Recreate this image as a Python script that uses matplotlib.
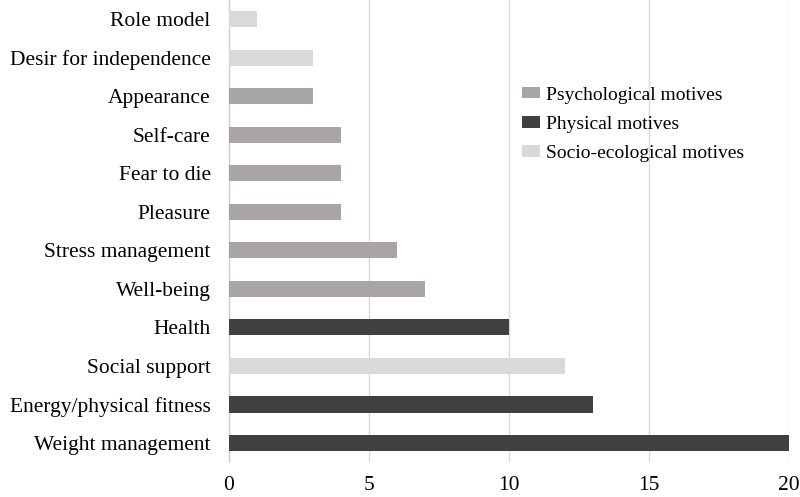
import matplotlib
matplotlib.use("Agg")
import matplotlib.pyplot as plt
from matplotlib.patches import Patch

categories = ["Weight management", "Energy/physical fitness", "Social support", "Health",
              "Well-being", "Stress management", "Pleasure", "Fear to die", "Self-care",
              "Appearance", "Desir for independence", "Role model"]
values = [20, 13, 12, 10, 7, 6, 4, 4, 4, 3, 3, 1]
groups = ["Physical", "Physical", "Socio", "Physical", "Psych", "Psych", "Psych", "Psych",
          "Psych", "Psych", "Socio", "Socio"]
group_colors = {"Psych": "#a9a5a5", "Physical": "#404040", "Socio": "#d9d9d9"}
legend_labels = [("Psych", "Psychological motives"), ("Physical", "Physical motives"),
                 ("Socio", "Socio-ecological motives")]
xticks = [0, 5, 10, 15, 20]

plt.rcParams['font.family'] = ['Liberation Serif', 'DejaVu Serif']

fig = plt.figure(figsize=(8.0, 4.97), dpi=100)
ax = fig.add_axes([0.286, 0.070, 0.700, 0.930])

ypos = list(range(len(categories)))
ax.barh(ypos, values, height=0.42, color=[group_colors[g] for g in groups],
        edgecolor="none", zorder=3)
ax.set_yticks(ypos)
ax.set_yticklabels(categories, fontsize=15.5)
ax.set_ylim(-0.5, len(categories) - 0.5)
ax.set_xlim(0, 20)
ax.set_xticks(xticks)
ax.set_xticklabels([str(t) for t in xticks], fontsize=15.5)
ax.tick_params(axis='y', length=0, pad=13)
ax.tick_params(axis='x', length=0, pad=10)
ax.grid(axis='x', color="#d9d9d9", linewidth=1, zorder=0)
for s in ["top", "right", "bottom"]:
    ax.spines[s].set_visible(False)
ax.spines["left"].set_color("#d0d0d0")
ax.spines["left"].set_linewidth(1)

handles = [Patch(facecolor=group_colors[k], edgecolor="none", label=l) for k, l in legend_labels]
ax.legend(handles=handles, loc="upper left", bbox_to_anchor=(0.510, 0.829), frameon=False,
          fontsize=14, handlelength=0.9, handleheight=0.5, handletextpad=0.35,
          labelspacing=0.62, borderaxespad=0)

fig.savefig("out.png", dpi=100)
